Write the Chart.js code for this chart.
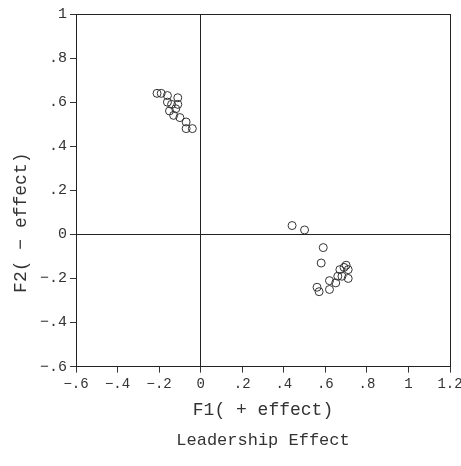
<!DOCTYPE html>
<html>
<head>
<meta charset="utf-8">
<script src="https://cdn.jsdelivr.net/npm/chart.js@4/dist/chart.umd.min.js"></script>
<style>
  html, body { margin: 0; padding: 0; background: #fff; }
  #wrap { width: 461px; height: 466px; }
</style>
</head>
<body>
<div id="wrap"><canvas id="leaderChart"></canvas></div>
<script>
// upper-left cluster (negative F1, high F2)
const groupAX = [-0.21, -0.19, -0.16, -0.11, -0.16, -0.14, -0.11, -0.15, -0.12, -0.13, -0.10, -0.07, -0.07, -0.04];
const groupAY = [0.64, 0.64, 0.63, 0.62, 0.60, 0.59, 0.59, 0.56, 0.57, 0.54, 0.53, 0.51, 0.48, 0.48];
// lower-right cluster
const groupBX = [0.44, 0.50, 0.59, 0.58, 0.70, 0.67, 0.71, 0.69, 0.62, 0.66, 0.68, 0.71, 0.56, 0.62, 0.57, 0.65];
const groupBY = [0.04, 0.02, -0.06, -0.13, -0.14, -0.16, -0.16, -0.15, -0.21, -0.19, -0.19, -0.20, -0.24, -0.25, -0.26, -0.22];

const xTitle = "F1( + effect)";
// trailing spaces push the rotated label down like in the original
const yTitle = "F2( \u2212 effect)      ";
const chartTitle = "Leadership Effect";

function toPoints(xs, ys) {
    return xs.map((x, i) => ({ x: x, y: ys[i] }));
}

function fmtTick(v) {
    v = Math.round(v * 10) / 10;
    if (v === 0) return "0";
    const s = Math.abs(v).toString().replace(/^0/, "");
    return (v < 0 ? "\u2212" : "") + s;
}

const monoFont = "'Liberation Mono', 'DejaVu Sans Mono', monospace";

function lineColor(ctx, max) {
    const v = Math.round(ctx.tick.value * 10) / 10;
    return (v === 0 || v === max) ? "#222" : "rgba(0,0,0,0)";
}

const ctx = document.getElementById("leaderChart").getContext("2d");
new Chart(ctx, {
    type: "scatter",
    data: {
        datasets: [{
            data: toPoints(groupAX, groupAY).concat(toPoints(groupBX, groupBY)),
            pointStyle: "circle",
            pointRadius: 4,
            pointBorderWidth: 1,
            borderColor: "#333",
            backgroundColor: "rgba(255,255,255,0)"
        }]
    },
    options: {
        responsive: true,
        maintainAspectRatio: false,
        animation: false,
        layout: { padding: { top: 14, right: 11, bottom: 15, left: 0 } },
        scales: {
            x: {
                type: "linear",
                min: -0.6,
                max: 1.2,
                ticks: { stepSize: 0.2, color: "#333", font: { family: monoFont, size: 14 }, callback: fmtTick, maxRotation: 0, padding: 3 },
                grid: { color: c => lineColor(c, 1.2), tickColor: "#333", tickLength: 6, lineWidth: 1 },
                border: { color: "#222", width: 1 },
                title: { display: true, text: xTitle, color: "#333", font: { family: monoFont, size: 18 }, padding: { top: 0, bottom: 10 } },
                afterFit: s => { s.height = 64; s.paddingRight = 0; s.paddingLeft = 0; }
            },
            y: {
                type: "linear",
                min: -0.6,
                max: 1,
                ticks: { stepSize: 0.2, color: "#333", font: { family: monoFont, size: 15 }, callback: fmtTick, padding: 3 },
                grid: { color: c => lineColor(c, 1), tickColor: "#333", tickLength: 6, lineWidth: 1 },
                border: { color: "#222", width: 1 },
                title: { display: true, text: yTitle, color: "#333", font: { family: monoFont, size: 18 }, padding: { top: 10, bottom: 0 } },
                afterFit: s => { s.width = 76; s.paddingTop = 0; s.paddingBottom = 0; }
            }
        },
        plugins: {
            legend: { display: false },
            tooltip: { enabled: false },
            title: { display: true, position: "bottom", fullSize: false, text: chartTitle, color: "#333", font: { family: monoFont, size: 17, weight: "normal" }, padding: { top: 0, bottom: 0 } }
        }
    }
});
</script>
</body>
</html>
